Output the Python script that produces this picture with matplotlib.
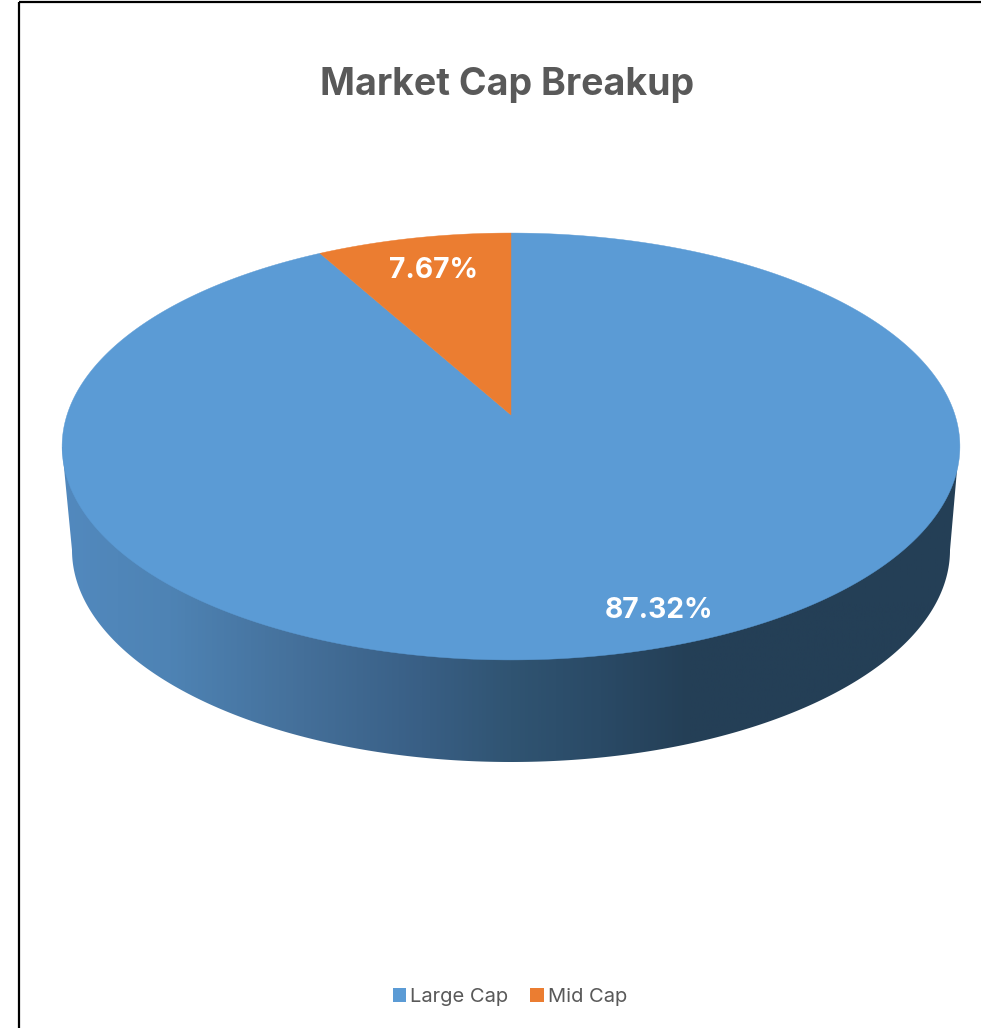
import matplotlib
matplotlib.use("Agg")
import matplotlib.pyplot as plt
import numpy as np
from matplotlib.colors import LinearSegmentedColormap
from matplotlib.patches import Patch, Polygon, Rectangle

TITLE = "Market Cap Breakup"
CATEGORIES = ["Large Cap", "Mid Cap"]
VALUES = [87.32, 7.67]
COLORS = ["#5B9BD5", "#EB7D31"]
LABEL_POS = [(659, 610), (433, 270)]

plt.rcParams["font.family"] = ["Inter", "DejaVu Sans"]


def project(theta):
    # pie plane -> picture, theta clockwise from 12 o'clock
    u, v = np.sin(theta), np.cos(theta)
    w = 1 + 0.1475 * v
    return 511 + 444 * u / w, (415 - 147.6 * v) / w


def slice_points(start, end):
    t = np.linspace(start, end, 400)
    x, y = project(t)
    return np.column_stack([np.r_[511, x], np.r_[415, y]])


fig = plt.figure(figsize=(9.81, 10.28), dpi=100)
ax = fig.add_axes([0, 0, 1, 1])

# side wall with its horizontal shading
t = np.linspace(0, np.pi, 300)
wall = np.vstack([
    [[959, 447], [950, 550]],
    np.column_stack([511 + 439 * np.cos(t), 550 + 212 * np.sin(t)]),
    [[62, 447]],
])
shade = LinearSegmentedColormap.from_list("shade", [
    (0.0, "#5289BE"), (0.12, "#4E83B4"), (0.27, "#446F99"), (0.40, "#395F85"),
    (0.50, "#305472"), (0.60, "#2A4A66"), (0.70, "#243F56"), (1.0, "#243F56"),
])
grad = np.linspace(0, 1, 512).reshape(1, -1)
im = ax.imshow(grad, cmap=shade, extent=(62, 959, 770, 440), aspect="auto", zorder=1)
wall_patch = Polygon(wall, closed=True, fc="none", ec="none", transform=ax.transData)
ax.add_patch(wall_patch)
im.set_clip_path(wall_patch)

# top face
fractions = np.array(VALUES) / sum(VALUES)
edges = np.r_[0, np.cumsum(fractions)] * 2 * np.pi
for i, color in enumerate(COLORS):
    pts = slice_points(edges[i], edges[i + 1])
    ax.add_patch(Polygon(pts, closed=True, fc=color, ec=color, lw=0.3, zorder=2))
    ax.text(LABEL_POS[i][0], LABEL_POS[i][1], f"{VALUES[i]:.2f}%", color="white",
            fontsize=20.3, fontweight="bold", ha="center", va="center", zorder=3)

ax.text(507, 85, TITLE, color="#595959", fontsize=27, fontweight="bold",
        ha="center", va="center")

# outer frame, only the left and top edges show
ax.add_patch(Rectangle((19, 2), 1100, 1100, fc="none", ec="black", lw=1.6, zorder=4))

handles = [Patch(fc=c, ec="none") for c in COLORS]
leg = ax.legend(handles, CATEGORIES, ncol=2, frameon=False, fontsize=14.5,
                labelcolor="#595959", handlelength=0.65, handleheight=0.65,
                handletextpad=0.2, columnspacing=1.09, loc="center",
                bbox_to_anchor=(510 / 981, 1 - 997 / 1028))

ax.set_xlim(0, 981)
ax.set_ylim(1028, 0)
ax.axis("off")

fig.savefig("out.png", dpi=100)
